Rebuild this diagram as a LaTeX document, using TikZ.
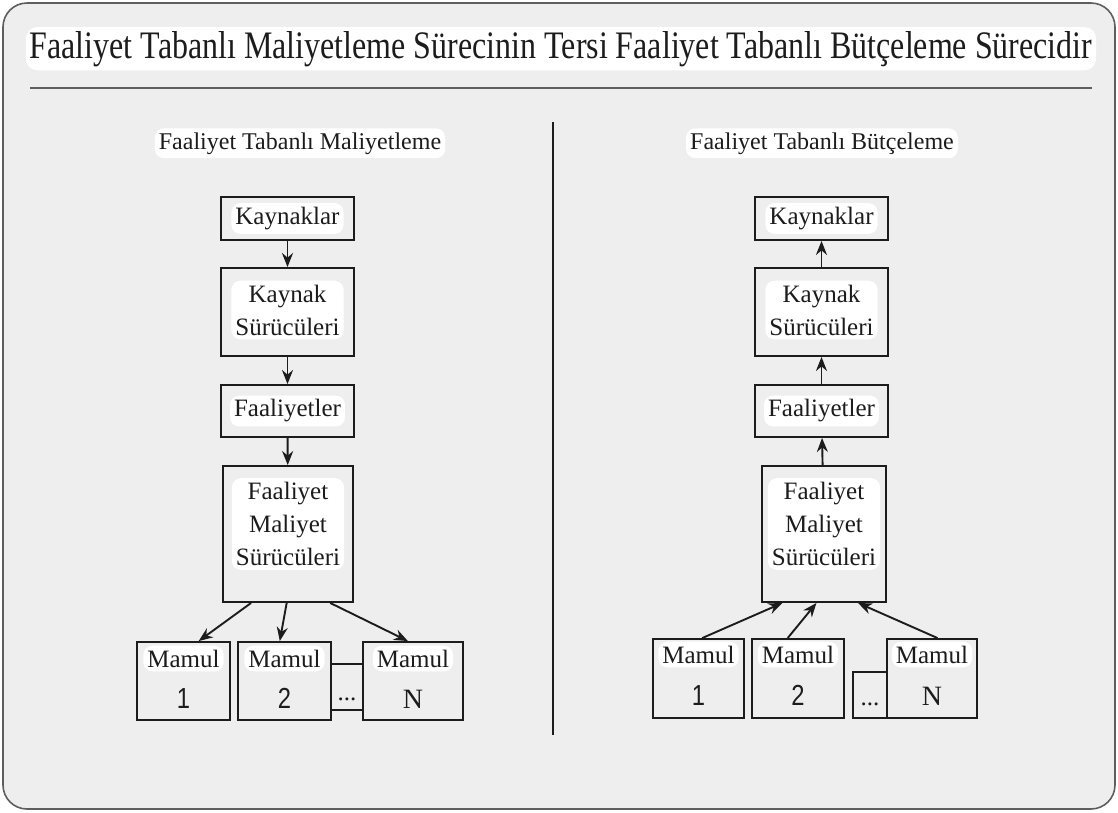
\documentclass[tikz,border=0pt]{standalone}
\usepackage{fontspec}
\setmainfont{Liberation Serif}
\newfontfamily\numfont{Liberation Sans}
\usetikzlibrary{calc,arrows.meta}
\definecolor{paper}{HTML}{EEEEEE}
\definecolor{ink}{HTML}{1C1C1C}
\definecolor{rim}{HTML}{5E5E5E}
\newcommand{\prodnum}[1]{\scalebox{0.82}[1]{\numfont\fontsize{29}{29}\selectfont #1}}
\begin{document}
\begin{tikzpicture}[x=1pt,y=-1pt,
  box/.style={draw=ink,line width=1.9pt,fill=paper,inner sep=0pt,minimum width=133pt},
  patch/.style={fill=white,rounded corners=9pt,inner sep=4pt,text=ink,
    font=\fontsize{25}{33}\selectfont,align=center},
  plain/.style={inner sep=0pt,text=ink,font=\fontsize{25}{33}\selectfont},
  arr/.style={draw=ink,line width=1.9pt,-{Stealth[length=14pt,width=11pt]}},
  rule/.style={draw=rim,line width=1.4pt}]

% page and frame
\useasboundingbox (0,0) rectangle (1118,812);
\fill[white] (0,0) rectangle (1118,812);
\draw[fill=paper,draw=rim,line width=1.6pt,rounded corners=24pt] (3,3) rectangle (1115,809);

% heading
\node[fill=white,rounded corners=12pt,inner sep=4pt,anchor=base,text=ink] (title) at (561,58)
  {\resizebox{1062pt}{27pt}{Faaliyet Tabanlı Maliyetleme Sürecinin Tersi Faaliyet Tabanlı Bütçeleme Sürecidir}};
\coordinate (ruleL) at (30,88);
\coordinate (ruleR) at (1092,88);
\draw[rule] (ruleL) -- (ruleR);

% divider between the two columns
\coordinate (divT) at (553,122);
\coordinate (divB) at (553,735);
\draw[draw=ink,line width=1.4pt] (divT) -- (divB);

\node[patch,anchor=base,font=\fontsize{24}{33}\selectfont] (hl) at (300,149) {Faaliyet Tabanlı Maliyetleme};
\node[patch,anchor=base,font=\fontsize{24}{33}\selectfont] (hr) at (822,149) {Faaliyet Tabanlı Bütçeleme};

% ---------- costing column ----------
\node[box,minimum height=43pt] (k1) at (287.5,218.5) {};
\node[box,minimum height=88pt] (k2) at (287.5,312) {};
\node[box,minimum height=52pt] (k3) at (287.5,411) {};
\node[box,minimum width=130pt,minimum height=136pt] (k4) at (288,534) {};
\node[box,minimum width=93pt,minimum height=78pt] (m1) at (183.5,681) {};
\node[box,minimum width=93pt,minimum height=78pt] (m2) at (284.5,681) {};
\node[box,minimum width=100pt,minimum height=78pt] (mN) at (413,681) {};

\node[patch] at (k1) {Kaynaklar};
\node[patch] at ($(k2)+(0,-2)$) {Kaynak\\Sürücüleri};
\node[patch] at (k3) {Faaliyetler};
\node[patch] at ($(k4)+(0,-10)$) {Faaliyet\\Maliyet\\Sürücüleri};
\node[patch,anchor=base] at ($(m1.north)+(0,26)$) {Mamul};
\node[patch,anchor=base] at ($(m2.north)+(0,26)$) {Mamul};
\node[patch,anchor=base] at ($(mN.north)+(0,26)$) {Mamul};
\node[plain,anchor=base] at ($(m1.north)+(0,67)$) {\prodnum{1}};
\node[plain,anchor=base] at ($(m2.north)+(0,67)$) {\prodnum{2}};
\node[plain,anchor=base,font=\fontsize{28}{28}\selectfont] at ($(mN.north)+(0,67)$) {N};

\draw[arr] (k1) -- (k2);
\draw[arr] (k2) -- (k3);
\draw[arr] (k3) -- (k4);
\draw[arr] ($(k4.south west)!0.22!(k4.south east)$) -- ($(m1.north west)!0.66!(m1.north east)$);
\draw[arr] ($(k4.south west)!0.49!(k4.south east)$) -- ($(m2.north west)!0.45!(m2.north east)$);
\draw[arr] ($(k4.south west)!0.82!(k4.south east)$) -- ($(mN.north west)!0.45!(mN.north east)$);

% link between product 2 and product N
\draw[draw=ink,line width=1.9pt] ($(m2.north east)!0.29!(m2.south east)$) -- ($(mN.north west)!0.29!(mN.south west)$);
\draw[draw=ink,line width=1.9pt] ($(m2.north east)!0.86!(m2.south east)$) -- ($(mN.north west)!0.86!(mN.south west)$);
\node[plain,anchor=base] (dl) at (347,700) {...};

% ---------- budgeting column ----------
\node[box,minimum height=43pt] (r1) at (821.5,218.5) {};
\node[box,minimum height=88pt] (r2) at (821.5,312) {};
\node[box,minimum height=52pt] (r3) at (821.5,411) {};
\node[box,minimum width=124pt,minimum height=136pt] (r4) at (824,534) {};
\node[box,minimum width=91pt,minimum height=79pt] (n1) at (698.5,678.5) {};
\node[box,minimum width=92pt,minimum height=79pt] (n2) at (798,678.5) {};
\node[box,minimum width=34pt,minimum height=46pt] (nd) at (870,695) {};
\node[box,minimum width=90pt,minimum height=79pt] (nN) at (932,678.5) {};

\node[patch] at (r1) {Kaynaklar};
\node[patch] at ($(r2)+(0,-2)$) {Kaynak\\Sürücüleri};
\node[patch] at (r3) {Faaliyetler};
\node[patch] at ($(r4)+(0,-10)$) {Faaliyet\\Maliyet\\Sürücüleri};
\node[patch,anchor=base] at ($(n1.north)+(0,25)$) {Mamul};
\node[patch,anchor=base] at ($(n2.north)+(0,25)$) {Mamul};
\node[patch,anchor=base] at ($(nN.north)+(0,25)$) {Mamul};
\node[plain,anchor=base] at ($(n1.north)+(0,67)$) {\prodnum{1}};
\node[plain,anchor=base] at ($(n2.north)+(0,67)$) {\prodnum{2}};
\node[plain,anchor=base,font=\fontsize{28}{28}\selectfont] at ($(nN.north)+(0,67)$) {N};
\node[plain,anchor=base] at ($(nd.south)+(0,-13)$) {...};

\draw[arr] (r2) -- (r1);
\draw[arr] (r3) -- (r2);
\draw[arr] (r4) -- (r3);
\draw[arr] ($(n1.north west)!0.54!(n1.north east)$) -- ($(r4.south west)!0.17!(r4.south east)$);
\draw[arr] ($(n2.north west)!0.39!(n2.north east)$) -- ($(r4.south west)!0.44!(r4.south east)$);
\draw[arr] ($(nN.north west)!0.56!(nN.north east)$) -- ($(r4.south west)!0.77!(r4.south east)$);
\end{tikzpicture}
\end{document}
